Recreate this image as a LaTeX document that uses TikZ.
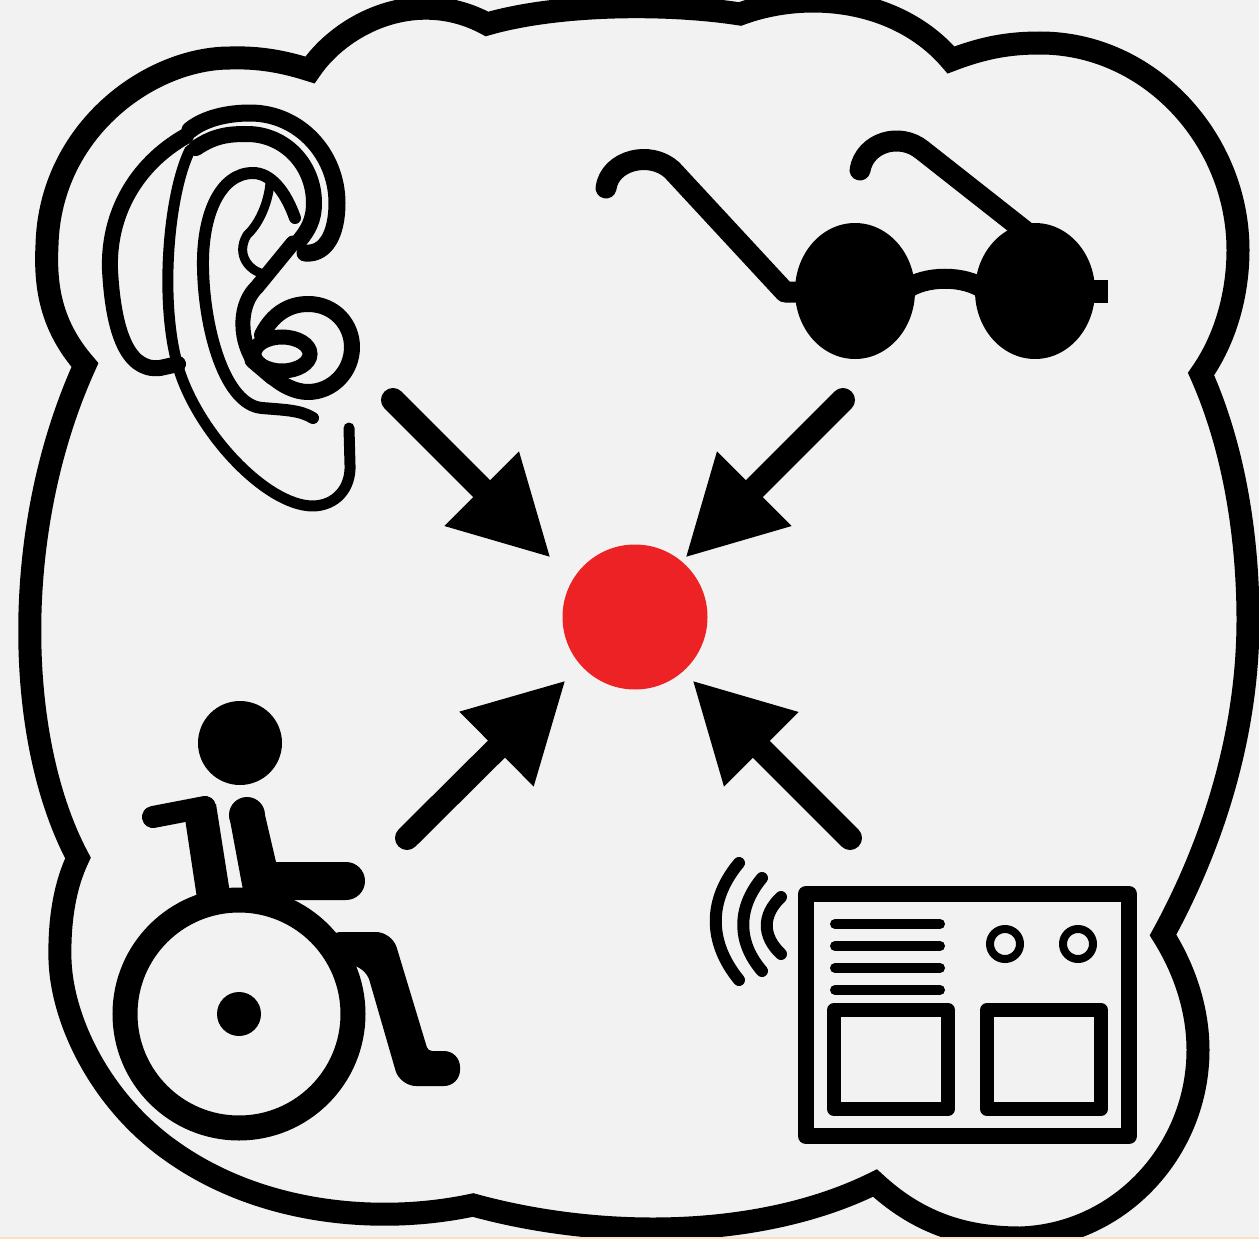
\documentclass[tikz,border=0pt]{standalone}
\usetikzlibrary{arrows.meta}
\definecolor{bgc}{HTML}{F2F2F2}
\definecolor{redc}{HTML}{ED2224}
\definecolor{edgec}{HTML}{FFDFC0}
\tikzset{
  ink/.style={draw=black,line cap=round,line join=round},
  arr/.style={draw=black,line width=24pt,line cap=round,-{Triangle[length=98pt,width=98pt]}},
}
\begin{document}
\begin{tikzpicture}[x=1pt,y=-1pt]
\useasboundingbox (0,0) rectangle (1259,1239);
\fill[bgc] (0,0) rectangle (1259,1239);
% cloud outline
\begin{scope}
\clip (0,0) rectangle (1259,1239);
\draw[line width=23pt,line join=miter,miter limit=3]
 (310,70) .. controls (340,25) and (415,-15) .. (487,24)
 .. controls (560,3) and (670,3) .. (740,14)
 .. controls (810,-12) and (900,0) .. (951,60)
 .. controls (985,47) and (1010,43) .. (1040,43)
 .. controls (1150,43) and (1238,140) .. (1238,250)
 .. controls (1238,295) and (1225,340) .. (1201,374)
 .. controls (1235,450) and (1248,540) .. (1248,620)
 .. controls (1248,730) and (1215,840) .. (1163,935)
 .. controls (1185,970) and (1198,1010) .. (1198,1050)
 .. controls (1198,1150) and (1120,1235) .. (1020,1238)
 .. controls (960,1238) and (915,1220) .. (875,1183)
 .. controls (760,1240) and (600,1240) .. (473,1205)
 .. controls (380,1225) and (260,1215) .. (170,1150)
 .. controls (100,1100) and (62,1020) .. (60,960)
 .. controls (59,920) and (65,885) .. (78,858)
 .. controls (15,740) and (10,530) .. (85,365)
 .. controls (50,325) and (45,285) .. (47,245)
 .. controls (50,130) and (150,58) .. (230,58)
 .. controls (260,57) and (285,62) .. (310,70) -- cycle;
\end{scope}
% ear
\draw[ink,line width=16pt] (186,136) .. controls (135,165) and (108,215) .. (110,270)
  .. controls (113,325) and (125,372) .. (160,368) -- (178,364);
\draw[ink,line width=11pt] (190,150) .. controls (168,195) and (160,300) .. (177,363)
  .. controls (195,430) and (265,505) .. (312,506)
  .. controls (336,506) and (351,488) .. (350,465) -- (349,428);
\draw[ink,line width=17pt] (190,130) .. controls (205,118) and (228,113) .. (250,113)
  .. controls (300,113) and (337,155) .. (337,203)
  .. controls (337,235) and (325,255) .. (305,253);
\draw[ink,line width=16pt] (196,148) .. controls (215,135) and (230,134) .. (247,134)
  .. controls (285,134) and (314,165) .. (314,203)
  .. controls (314,220) and (308,230) .. (300,240);
\draw[ink,line width=15pt] (293,243) -- (257,287)
  .. controls (240,303) and (238,335) .. (253,360);
\draw[ink,line width=17pt] (253,360) -- (273,377);
\draw[ink,line width=12pt] (295,218) .. controls (285,190) and (270,173) .. (253,173)
  .. controls (220,173) and (202,215) .. (203,267)
  .. controls (204,330) and (225,405) .. (262,408)
  .. controls (285,410) and (300,410) .. (313,418);
\draw[ink,line width=9pt] (270,183) .. controls (268,205) and (258,225) .. (247,235)
  .. controls (235,255) and (250,272) .. (265,274);
\draw[ink,line width=16pt] (262,335) .. controls (272,315) and (288,304) .. (308,304)
  .. controls (335,304) and (352,325) .. (352,347)
  .. controls (352,372) and (332,392) .. (308,392)
  .. controls (295,392) and (282,385) .. (273,377);
\draw[line width=15pt] (282,354) ellipse (28 and 17);
% glasses
\fill (855,291) ellipse (60 and 68);
\fill (1035,291) ellipse (60 and 68);
\draw[ink,line width=21pt] (606,188) .. controls (610,160) and (650,150) .. (672,170)
  -- (785,292) -- (805,292);
\draw[ink,line width=21pt] (860,170) .. controls (865,142) and (900,132) .. (922,150) -- (1030,235);
\draw[line width=20pt] (905,290) .. controls (925,275) and (965,275) .. (985,290);
\fill (1085,280) rectangle (1108,303);
% red dot
\node[circle,fill=redc,inner sep=0pt,minimum size=145pt] (dot) at (635,617) {};
% arrows
\coordinate (s1) at (393,400); \coordinate (t1) at (551,558);
\coordinate (s2) at (843,400); \coordinate (t2) at (685,558);
\coordinate (s3) at (407,838); \coordinate (t3) at (566,680);
\coordinate (s4) at (850,838); \coordinate (t4) at (692,680);
\path[arr] (s1) -- (t1);
\path[arr] (s2) -- (t2);
\path[arr] (s3) -- (t3);
\path[arr] (s4) -- (t4);
% wheelchair
\fill (240,743) circle (42);
\draw[line width=25pt] (239,1014) circle (114);
\fill (239,1014) circle (22);
\draw[ink,line width=22pt] (153,817) -- (205,807);
\fill (184,812) -- (216,804) -- (230,893) -- (198,905) -- cycle;
\fill (247,815) circle (18);
\fill (229,815) -- (265,815) -- (276,862) -- (346,862)
  arc[start angle=-90,end angle=90,radius=19] -- (270,900) -- (243,890) -- cycle;
\fill[rounded corners=16pt] (325,932) -- (392,932) [rounded corners=4pt] -- (428,1051)
  [rounded corners=16pt] -- (460,1051)
  -- (460,1086) -- (400,1086) -- (365,965) -- (330,965) -- cycle;
% device
\draw[ink,line width=16pt] (806,894) rectangle (1129,1136);
\foreach \y in {924,946,968,990} \draw[ink,line width=10pt] (835,\y) -- (940,\y);
\draw[line width=8pt] (1005,944) circle (15);
\draw[line width=8pt] (1078,944) circle (15);
\draw[ink,line width=14pt] (834,1010) rectangle (948,1109);
\draw[ink,line width=14pt] (987,1010) rectangle (1101,1109);
\draw[ink,line width=12pt] (739,863) .. controls (708,900) and (708,942) .. (739,980);
\draw[ink,line width=12pt] (762,878) .. controls (737,908) and (737,942) .. (762,971);
\draw[ink,line width=12pt] (781,897) .. controls (762,915) and (762,936) .. (781,954);
% bottom edge line
\fill[edgec] (0,1237) rectangle (1259,1239);
\end{tikzpicture}
\end{document}
